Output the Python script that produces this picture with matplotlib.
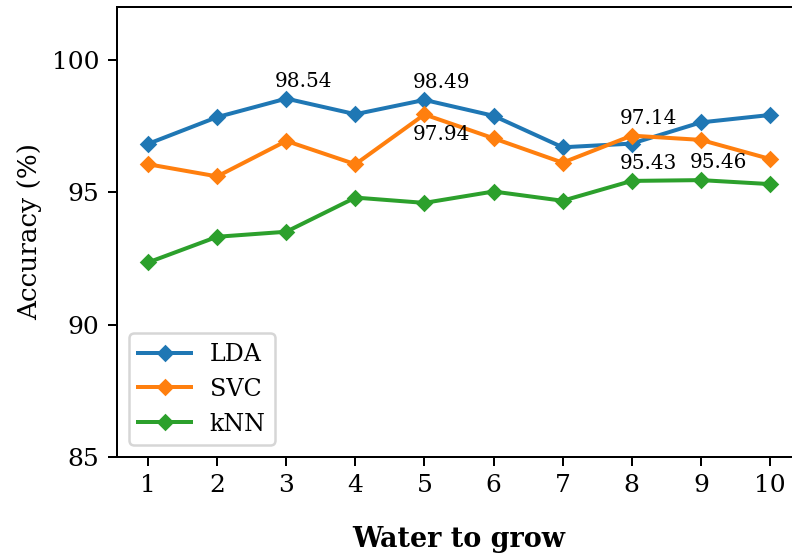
import numpy as np
import matplotlib.pyplot as plt

plt.rcParams['font.family'] = 'DejaVu Serif'

steps = [1, 2, 3, 4, 5, 6, 7, 8, 9, 10]
lda = [96.83, 97.84, 98.54, 97.95, 98.49, 97.89, 96.70, 96.84, 97.64, 97.92]
svc = [96.06, 95.60, 96.94, 96.06, 97.94, 97.04, 96.12, 97.14, 96.98, 96.26]
knn = [92.35, 93.32, 93.51, 94.80, 94.60, 95.03, 94.68, 95.43, 95.46, 95.31]

# which points get a value label, and whether it goes above or below
lda_notes = [(3, 'above'), (5, 'above')]
svc_notes = [(5, 'below'), (8, 'above')]
knn_notes = [(8, 'above'), (9, 'above')]

dpi = 180
fig = plt.figure(figsize=(792 / dpi, 553 / dpi), dpi=dpi)
ax = fig.add_axes([117 / 792, 1 - 457 / 553, (801 - 117) / 792, (457 - 7) / 553])

series = [('LDA', lda, lda_notes), ('SVC', svc, svc_notes), ('kNN', knn, knn_notes)]
for name, vals, notes in series:
    ax.plot(steps, vals, marker='D', markersize=4, linewidth=1.6, label=name)
    for step, where in notes:
        v = vals[step - 1]
        if where == 'above':
            ax.annotate(f'{v:.2f}', (step, v), xytext=(-4.6, 3.2), textcoords='offset points',
                        ha='left', va='bottom', fontsize=8)
        else:
            ax.annotate(f'{v:.2f}', (step, v), xytext=(-4.6, -4.4), textcoords='offset points',
                        ha='left', va='top', fontsize=8)

ax.set_xlim(0.55, 10.45)
ax.set_ylim(85, 102)
ax.set_xticks(steps)
ax.set_yticks([85, 90, 95, 100])
ax.tick_params(labelsize=10)
ax.set_xlabel('Water to grow', fontsize=10.8, fontweight='bold', labelpad=11.5)
ax.set_ylabel('Accuracy (%)', fontsize=10.5, labelpad=4)
ax.legend(loc='lower left', fontsize=9.5, handlelength=2.2)

fig.savefig('out.png', dpi=dpi)
